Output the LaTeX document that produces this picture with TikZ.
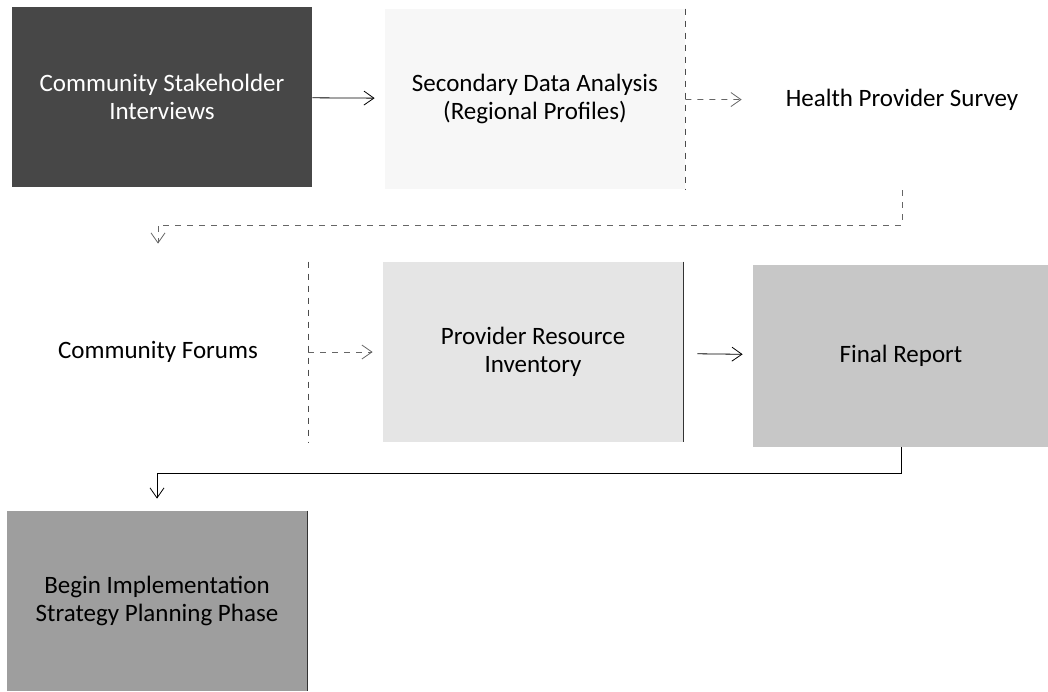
\documentclass[tikz,border=0pt]{standalone}
\usepackage{fontspec}
\setmainfont{Carlito}
\usetikzlibrary{arrows, arrows.meta, positioning, calc}
\definecolor{scandark}{gray}{0.28}
\definecolor{scanmid}{gray}{0.62}
\definecolor{scanlight}{gray}{0.78}
\definecolor{scanpale}{gray}{0.90}
\definecolor{scanfaint}{gray}{0.97}
\tikzstyle{stage} = [rectangle, minimum width=150pt, minimum height=90pt, inner sep=2pt, align=center, font=\fontsize{12.5}{14}\selectfont]
\tikzstyle{arrow} = [thin,->,>={Straight Barb[length=5pt,width=7pt]},shorten >=5pt,black]
\tikzstyle{dasharrow} = [thin,->,>={Straight Barb[length=5pt,width=7pt]},dashed,shorten >=5pt,black!60]

\begin{document}
\begin{tikzpicture}[x=0.5pt, y=-0.5pt]
\useasboundingbox (0,0) rectangle (1048,691);

% Stage boxes
\node[stage, fill=scandark, text=white] (interviews) at (162,97) {Community Stakeholder\\Interviews};
\node[stage, fill=scanfaint] (secondary) at (535,99) {Secondary Data Analysis\\(Regional Profiles)};
\node[stage, fill=white] (survey) at (902,100) {Health Provider Survey};

\node[stage, fill=white] (forums) at (158,352) {Community Forums};
\node[stage, fill=scanpale] (inventory) at (533,352) {Provider Resource\\Inventory};
\node[stage, fill=scanlight, minimum width=148pt, minimum height=91pt] (report) at (901,356) {Final Report};

\node[stage, fill=scanmid] (implement) at (157,601) {Begin Implementation\\Strategy Planning Phase};

% Box edges left by the scan
\draw[dashed, black!70] (secondary.north east) -- (secondary.south east);
\draw[dashed, black!70] (forums.north east) -- (forums.south east);
\draw[black!80] (inventory.north east) -- (inventory.south east);
\draw[black!80] (implement.north east) -- (implement.south east);

% Arrows
\coordinate (upperturn) at (0,225);
\coordinate (lowerturn) at (0,473);
\draw[arrow] (interviews) -- (secondary);
\draw[dasharrow] (secondary) -- (survey);
\draw[dasharrow, shorten >=9pt] (survey.south) |- (upperturn -| forums.north) -- (forums.north);
\draw[dasharrow] (forums) -- (inventory);
\draw[arrow, shorten <=7pt] (inventory) -- (report);
\draw[arrow, shorten >=6pt] (report.south) |- (lowerturn -| implement.north) -- (implement.north);
\end{tikzpicture}
\end{document}
